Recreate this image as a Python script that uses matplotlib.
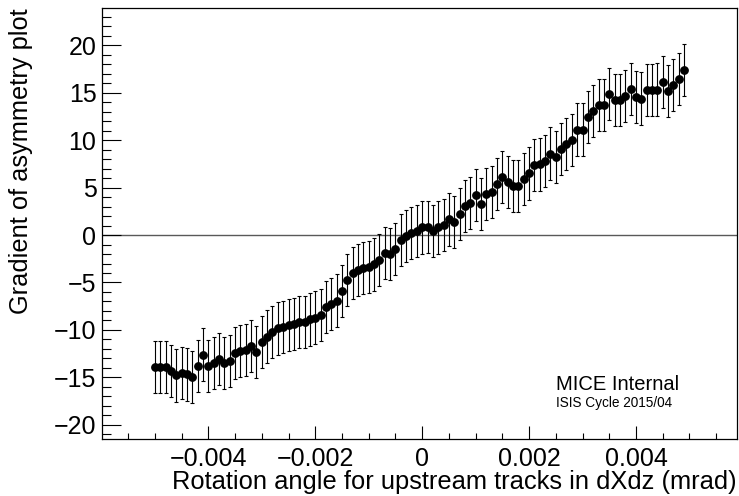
import numpy as np
import matplotlib
matplotlib.use('Agg')
import matplotlib.pyplot as plt
from matplotlib.ticker import MultipleLocator

plt.rcParams['font.family'] = ['Liberation Sans', 'DejaVu Sans']

# rotation angle steps (mrad), -0.005 ... 0.0049
angle = np.round(np.arange(-50, 50) * 1e-4, 4)

gradient = [
    -13.9, -13.95, -13.9, -14.3, -14.8, -14.5, -14.7, -15.0, -13.8, -12.6,
    -13.8, -13.5, -13.1, -13.5, -13.3, -12.4, -12.25, -12.1, -11.7, -12.35,
    -11.3, -10.7, -10.2, -9.85, -9.7, -9.5, -9.4, -9.2, -9.2, -8.9,
    -8.7, -8.45, -7.6, -7.3, -6.9, -5.9, -4.7, -4.0, -3.7, -3.5,
    -3.4, -3.1, -2.6, -1.9, -2.0, -1.5, -0.5, -0.1, 0.2, 0.45,
    0.8, 0.88, 0.45, 0.8, 1.05, 1.65, 1.4, 2.2, 3.06, 3.4,
    4.2, 3.24, 4.33, 4.57, 5.4, 6.16, 5.63, 5.2, 5.2, 5.88,
    6.5, 7.4, 7.45, 7.85, 8.6, 8.27, 9.05, 9.6, 10.05, 11.13,
    11.13, 12.45, 13.1, 13.7, 13.7, 14.9, 14.25, 14.2, 14.7, 15.4,
    14.6, 14.4, 15.3, 15.3, 15.35, 16.1, 15.2, 15.8, 16.5, 17.4,
]
gradient_err = 2.75

xticks = [-0.004, -0.002, 0, 0.002, 0.004]
xtick_labels = ['\u22120.004', '\u22120.002', '0', '0.002', '0.004']
yticks = [-20, -15, -10, -5, 0, 5, 10, 15, 20]
ytick_labels = ['\u221220', '\u221215', '\u221210', '\u22125', '0', '5', '10', '15', '20']

fig = plt.figure(figsize=(7.39, 4.96), dpi=100)
ax = fig.add_axes([0.138, 0.115, 0.8593, 0.868])

ax.axhline(0, color='0.35', lw=1.0, zorder=1)
ax.errorbar(angle, gradient, yerr=gradient_err, fmt='o', color='black',
            ms=5.3, elinewidth=0.8, capsize=1.6, capthick=0.8, zorder=3)

ax.set_xlim(-0.00599, 0.00589)
ax.set_ylim(-21.5, 23.9)

ax.set_xticks(xticks)
ax.set_xticklabels(xtick_labels)
ax.set_yticks(yticks)
ax.set_yticklabels(ytick_labels)
ax.xaxis.set_minor_locator(MultipleLocator(0.0005))
ax.yaxis.set_minor_locator(MultipleLocator(1))
ax.tick_params(axis='both', which='both', direction='in', labelsize=18,
               width=0.8, top=False, right=False)
ax.tick_params(axis='x', which='major', length=9.4, pad=6)
ax.tick_params(axis='x', which='minor', length=4.6)
ax.tick_params(axis='y', which='major', length=13.7, pad=4)
ax.tick_params(axis='y', which='minor', length=6.7)
for s in ax.spines.values():
    s.set_linewidth(0.9)

ax.set_xlabel('Rotation angle for upstream tracks in dXdz (mrad)', fontsize=18.4,
              loc='right', labelpad=-1)
ax.set_ylabel('Gradient of asymmetry plot', fontsize=18.3, loc='top', labelpad=15)

ax.text(0.00251, -16.3, 'MICE Internal', fontsize=14.5)
ax.text(0.00251, -18.1, 'ISIS Cycle 2015/04', fontsize=9.8)

fig.savefig('out.png', dpi=100)
